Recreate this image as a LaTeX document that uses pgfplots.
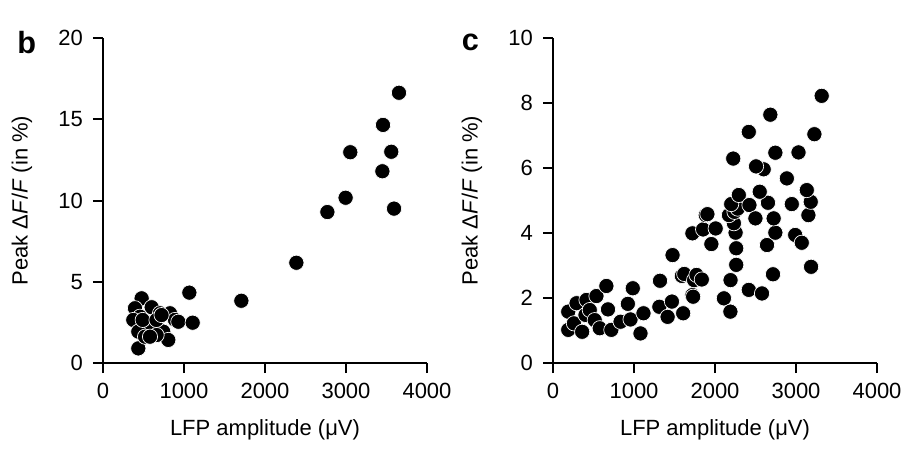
\documentclass[border=0pt]{standalone}
\usepackage{fontspec}
\setmainfont{Liberation Sans}
\usepackage{pgfplots}
\pgfplotsset{compat=1.18}
\pgfplotsset{
  panel/.style={
    scale only axis, width=243pt, height=243.75pt,
    axis lines=left, axis line style={-, line width=1.5pt},
    tick align=outside, major tick length=7.5pt,
    every tick/.style={line width=1.5pt, black},
    tick label style={font=\fontsize{16.5}{19}\selectfont},
    xticklabel style={yshift=-4pt},
    yticklabel style={xshift=-4pt},
    label style={font=\fontsize{16.5}{19}\selectfont},
    /pgf/number format/assume math mode=true,
    /pgf/number format/set thousands separator={},
    xmin=0, xmax=4000, xtick={0,1000,2000,3000,4000},
    scaled x ticks=false,
    xlabel={LFP amplitude (μV)},
    ylabel={Peak Δ\textit{F}/\textit{F} (in \%)},
    xlabel style={at={(axis description cs:0.5,-0.205)}, anchor=center},
    ylabel style={at={(axis description cs:-0.25,0.5)}, anchor=center},
    clip=false,
  },
  dots/.style={only marks, mark=*, mark size=5.7pt,
    mark options={fill=black, draw=white, line width=0.5pt}},
}
\begin{document}
\begin{tikzpicture}
\useasboundingbox (-77.25pt,-68.25pt) rectangle (607.5pt,272.25pt);
\begin{axis}[panel, at={(0pt,0pt)}, ymin=0, ymax=20, ytick={0,5,10,15,20}]
\addplot[dots] table {
x y
1066 4.33
477 3.98
395 3.37
601 3.43
457 2.85
374 2.65
704 3.06
827 3.06
889 2.65
930 2.54
1107 2.48
621 2.54
560 2.07
436 1.93
744 1.93
806 1.42
436 0.90
662 1.72
519 1.62
490 2.65
660 2.65
723 2.95
580 1.62
1708 3.83
2387 6.17
2770 9.29
2995 10.17
3593 9.5
3449 11.8
3053 12.97
3559 13.0
3457 14.65
3654 16.63
};
\node[font=\bfseries\fontsize{23}{26}\selectfont] at (axis description cs:-0.235,0.985) {b};
\end{axis}
\begin{axis}[panel, at={(337.5pt,0pt)}, ymin=0, ymax=10, ytick={0,2,4,6,8,10}]
\addplot[dots] table {
x y
188 1.58
188 1.02
258 1.22
291 1.84
360 0.96
401 1.48
413 1.94
454 1.63
515 1.32
536 2.06
577 1.07
659 2.37
679 1.65
720 1.02
834 1.27
924 1.82
957 1.34
985 2.30
1080 0.91
1117 1.53
1313 1.73
1321 2.53
1415 1.42
1468 1.89
1476 3.32
1591 2.68
1607 1.53
1620 2.74
1721 2.09
1730 2.04
1742 2.55
1771 2.71
1837 2.57
1721 3.99
1853 4.11
1955 3.66
2008 4.14
1886 4.55
1906 4.58
2110 1.99
2190 1.58
2192 2.55
2262 3.02
2262 3.53
2254 4.01
2233 4.30
2172 4.55
2240 4.65
2280 4.75
2200 4.89
2294 5.17
2425 4.86
2499 4.45
2417 2.25
2580 2.14
2642 3.63
2716 2.73
2745 4.01
2724 4.45
2654 4.93
2552 5.27
2948 4.89
2990 3.94
3071 3.70
3153 4.55
3182 4.96
3133 5.32
3186 2.96
2887 5.68
2601 5.96
2507 6.05
2225 6.29
2745 6.47
3031 6.48
2417 7.11
3227 7.04
2683 7.64
3317 8.22
};
\node[font=\bfseries\fontsize{23}{26}\selectfont] at (axis description cs:-0.255,0.985) {c};
\end{axis}
\end{tikzpicture}
\end{document}
